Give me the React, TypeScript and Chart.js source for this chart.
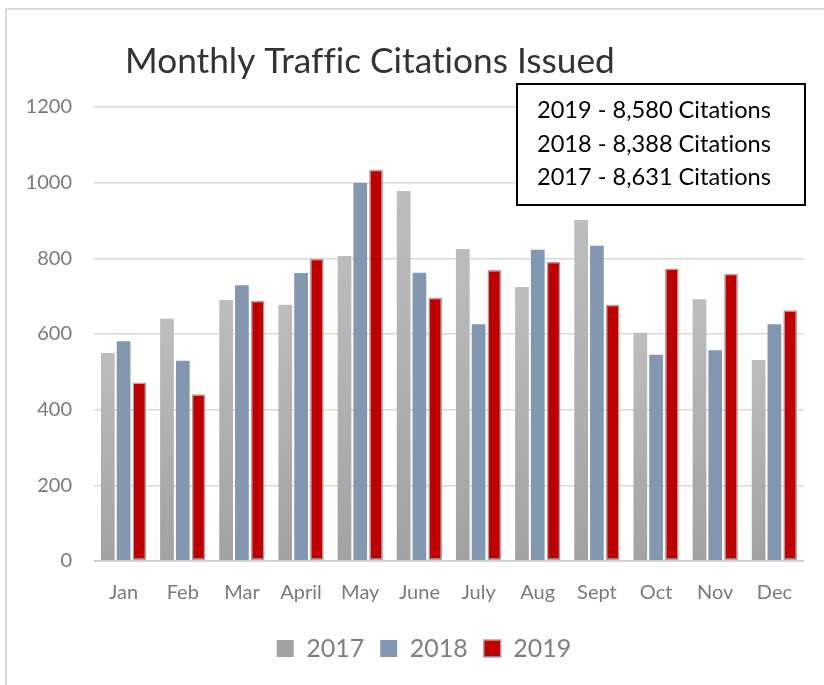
import React, { useEffect, useRef } from "react";
import { Chart, registerables } from "chart.js";

Chart.register(...registerables);

const months = ["Jan", "Feb", "Mar", "April", "May", "June", "July", "Aug", "Sept", "Oct", "Nov", "Dec"];
const series2017 = [550, 640, 690, 677, 806, 978, 825, 724, 901, 603, 692, 531];
const series2018 = [581, 529, 729, 761, 999, 762, 626, 823, 833, 545, 557, 626];
const series2019 = [472, 441, 688, 799, 1034, 696, 769, 791, 677, 773, 759, 663];
const seriesNames = ["2017", "2018", "2019"];
const titleText = "Monthly Traffic Citations Issued";
const noteLines = ["2019 - 8,580 Citations", "2018 - 8,388 Citations", "2017 - 8,631 Citations"];
const yMin = 0;
const yMax = 1200;
const yStep = 200;

const FONT = "Lato, 'Open Sans', sans-serif";

function fitFont(ctx: CanvasRenderingContext2D, text: string, target: number) {
  ctx.font = `100px ${FONT}`;
  const w = ctx.measureText(text).width;
  return (100 * target) / w;
}

const decorPlugin = {
  id: "decor",
  afterLayout(chart: any) {
    // let the y tick labels extend to the left edge (avoid clipping)
    const y = chart.scales.y;
    if (y) {
      y.left = 0;
      y.width = y.right;
    }
  },
  beforeDraw(chart: any) {
    const ctx = chart.ctx as CanvasRenderingContext2D;
    ctx.save();
    ctx.strokeStyle = "#d9d9d9";
    ctx.lineWidth = 2;
    ctx.strokeRect(6, 9, 840, 700);
    ctx.restore();
  },
  afterDraw(chart: any) {
    const ctx = chart.ctx as any;
    ctx.save();
    try {
      ctx.textRendering = "optimizeSpeed";
    } catch (e) {}
    // title
    const ts = fitFont(ctx, titleText, 490);
    ctx.font = `${ts}px ${FONT}`;
    ctx.fillStyle = "#333333";
    ctx.textBaseline = "alphabetic";
    ctx.textAlign = "left";
    ctx.fillText(titleText, 125, 73);
    // note box
    ctx.fillStyle = "#ffffff";
    ctx.fillRect(517, 84, 288, 121);
    ctx.strokeStyle = "#000000";
    ctx.lineWidth = 2;
    ctx.strokeRect(517, 84, 288, 121);
    const ns = fitFont(ctx, noteLines[1], 234);
    ctx.font = `${ns}px ${FONT}`;
    ctx.fillStyle = "#000000";
    const centers = [110, 143.5, 177];
    noteLines.forEach((t, i) => {
      ctx.fillText(t, 537, centers[i] + 8);
    });
    ctx.restore();
  },
};

function grayGradient(c: any) {
  const chart = c.chart;
  const y = chart.scales && chart.scales.y;
  if (c.type !== "data" || !y || !chart.chartArea) return "#b3b3b3";
  const top = y.getPixelForValue(c.raw);
  const base = y.getPixelForValue(0);
  if (!isFinite(top) || !isFinite(base) || base - top < 1) return "#b3b3b3";
  const g = chart.ctx.createLinearGradient(0, top, 0, base);
  g.addColorStop(0, "#bdbdbd");
  g.addColorStop(1, "#a2a2a2");
  return g;
}

export default function App() {
  const ref = useRef<HTMLCanvasElement | null>(null);
  useEffect(() => {
    document.body.style.margin = "0";
    const canvas = ref.current!;
    const chart = new Chart(canvas, {
      type: "bar",
      data: {
        labels: months,
        datasets: [
          {
            label: seriesNames[0],
            data: series2017,
            backgroundColor: grayGradient,
            borderWidth: 0,
          },
          {
            label: seriesNames[1],
            data: series2018,
            backgroundColor: "#8497b0",
            borderWidth: 0,
          },
          {
            label: seriesNames[2],
            data: series2019,
            backgroundColor: "#c00000",
            borderColor: "#a6a6a6",
            borderWidth: 1.5,
            borderSkipped: false,
          },
        ],
      },
      options: {
        responsive: false,
        animation: false,
        events: [],
        datasets: {
          bar: { categoryPercentage: 0.8, barPercentage: 0.87 },
        },
        layout: { padding: { top: 107, right: 20, left: 44, bottom: 14 } },
        plugins: {
          title: { display: false },
          tooltip: { enabled: false },
          legend: {
            position: "bottom",
            labels: {
              font: { family: FONT, size: 25 },
              color: "#7f7f7f",
              boxWidth: 17,
              boxHeight: 17,
              padding: 16,
            },
          },
        },
        scales: {
          x: {
            grid: { display: false, drawTicks: false },
            border: { display: false },
            ticks: { font: { family: FONT, size: 20 }, color: "#7a7a7a", padding: 20 },
            afterFit: (s: any) => {
              s.height = 59;
            },
          },
          y: {
            min: yMin,
            max: yMax,
            ticks: {
              stepSize: yStep,
              font: { family: FONT, size: 20 },
              color: "#7a7a7a",
              padding: 22,
              callback: (v: any) => String(v),
            },
            grid: {
              drawTicks: false,
              color: (c: any) => (c.tick && c.tick.value === 0 ? "#d0d0d0" : "#d9d9d9"),
              lineWidth: (c: any) => (c.tick && c.tick.value === 0 ? 2 : 1.4),
            },
            border: { display: false },
            afterFit: (s: any) => {
              s.width = 50;
            },
          },
        },
      },
      plugins: [decorPlugin],
    });
    return () => chart.destroy();
  }, []);
  return (
    <div style={{ width: 824, height: 685, background: "#ffffff" }}>
      <canvas ref={ref} width={824} height={685} style={{ display: "block" }} />
    </div>
  );
}
